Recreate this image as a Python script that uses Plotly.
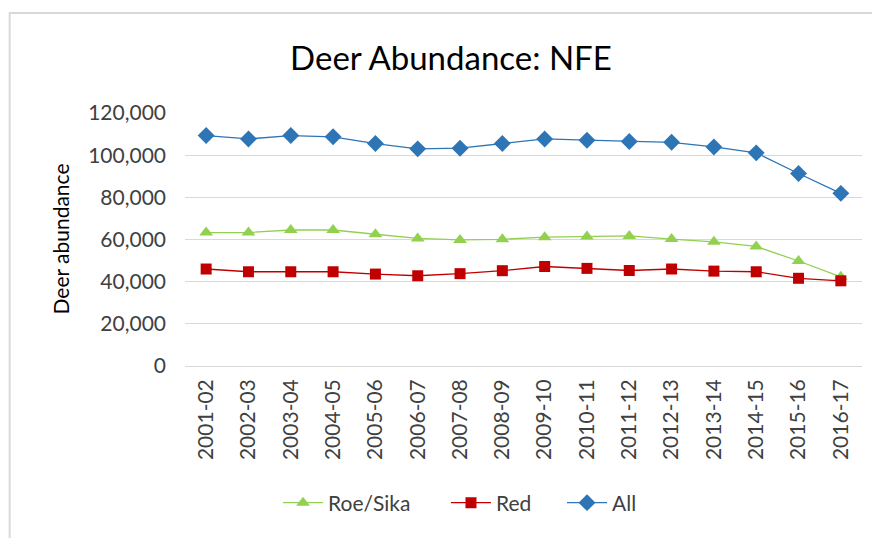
import plotly.graph_objects as go

seasons = ["2001-02", "2002-03", "2003-04", "2004-05", "2005-06", "2006-07",
           "2007-08", "2008-09", "2009-10", "2010-11", "2011-12", "2012-13",
           "2013-14", "2014-15", "2015-16", "2016-17"]

roe_sika = [63300, 63300, 64500, 64500, 62500, 60500, 59800, 60100,
            61100, 61400, 61700, 60200, 58900, 56700, 49800, 42300]
red = [46000, 44700, 44700, 44700, 43600, 42800, 43800, 45200,
       47200, 46300, 45300, 46000, 45000, 44700, 41600, 40400]
all_deer = [109300, 107700, 109300, 108700, 105500, 103000, 103300, 105500,
            107700, 107100, 106500, 106100, 103900, 101100, 91300, 81900]

FONT = "Lato"

fig = go.Figure()

fig.add_trace(go.Scatter(
    x=seasons, y=roe_sika, name="Roe/Sika", mode="lines+markers",
    line=dict(color="#92D050", width=1.3),
    marker=dict(symbol="triangle-up", size=12, color="#92D050"),
    legend="legend",
))
fig.add_trace(go.Scatter(
    x=seasons, y=red, name="Red", mode="lines+markers",
    line=dict(color="#C00000", width=1.3),
    marker=dict(symbol="square", size=11, color="#C00000"),
    legend="legend2",
))
fig.add_trace(go.Scatter(
    x=seasons, y=all_deer, name="All", mode="lines+markers",
    line=dict(color="#2E75B6", width=1.3),
    marker=dict(symbol="diamond", size=13, color="#2E75B6"),
    legend="legend3",
))

# chart frame (cropped in the original picture)
fig.add_shape(type="rect", xref="paper", yref="paper",
              x0=-0.259, y0=-1.0, x1=1.2, y1=1.395,
              line=dict(color="#D9D9D9", width=2), layer="below")

fig.add_annotation(text="Deer abundance", xref="paper", yref="paper",
                   x=-0.1846, y=0.5, xanchor="center", yanchor="middle",
                   textangle=-90, showarrow=False,
                   font=dict(family=FONT, size=21, color="#000000"))

leg = dict(orientation="h", y=-0.5415, xanchor="left", yanchor="middle",
           font=dict(family=FONT, size=21, color="#404040"), itemwidth=40)

# page body adds 8px, so the figure is sized/offset to compensate
fig.update_layout(
    width=872, height=530,
    margin=dict(l=177, r=18, t=105, b=172),
    paper_bgcolor="white", plot_bgcolor="white",
    title=dict(text="Deer Abundance: NFE", x=0.508, y=0.9057,
               xanchor="center", yanchor="middle",
               font=dict(family=FONT, size=33, color="#000000")),
    font=dict(family=FONT, color="#404040"),
    showlegend=True,
    legend=dict(leg, x=0.1374),
    legend2=dict(leg, x=0.3855),
    legend3=dict(leg, x=0.5569),
)

fig.update_xaxes(
    type="category", range=[-0.5, len(seasons) - 0.5], tickangle=-90,
    showgrid=False, showline=False, zeroline=False, ticks="",
    ticklabelstandoff=8,
    tickfont=dict(family=FONT, size=21, color="#404040"),
)
fig.update_yaxes(
    range=[0, 120000], dtick=20000, tickformat=",d",
    showgrid=True, gridcolor="#D9D9D9", gridwidth=1,
    zeroline=True, zerolinecolor="#D9D9D9", zerolinewidth=1,
    showline=False, ticks="", ticklabelstandoff=18,
    tickfont=dict(family=FONT, size=21, color="#404040"),
)

fig.write_html("out.html")
